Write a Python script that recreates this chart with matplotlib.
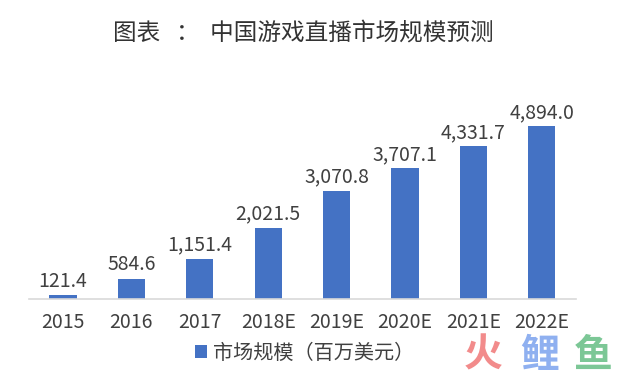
import matplotlib
matplotlib.use('Agg')
import matplotlib.pyplot as plt

plt.rcParams['font.family'] = ['Noto Sans CJK SC', 'DejaVu Sans']

years = ['2015', '2016', '2017', '2018E', '2019E', '2020E', '2021E', '2022E']
market = [121.4, 584.6, 1151.4, 2021.5, 3070.8, 3707.1, 4331.7, 4894.0]
series_name = '市场规模（百万美元）'
title = '图表   ：  中国游戏直播市场规模预测'

fig = plt.figure(figsize=(6.28, 3.74), dpi=100)
ax = fig.add_axes([0.046, 0.2, 0.871, 0.567])

x = range(len(years))
bars = ax.bar(x, market, width=0.4, color='#4472C4', label=series_name, zorder=2)
for xi, v in zip(x, market):
    ax.text(xi, v + 90, '{:,.1f}'.format(v), ha='center', va='bottom',
            fontsize=14, color='#404040')

ax.set_xlim(-0.5, len(years) - 0.5)
ax.set_ylim(0, 6000)
ax.set_xticks(list(x))
ax.set_xticklabels(years, fontsize=14, color='#404040')
ax.tick_params(axis='x', length=0, pad=9)
ax.set_yticks([])
for s in ['top', 'right', 'left']:
    ax.spines[s].set_visible(False)
ax.spines['bottom'].set_color('#d9d9d9')
ax.spines['bottom'].set_linewidth(1.2)

fig.text(0.483, 0.912, title, ha='center', va='center', fontsize=17, color='#333333')

leg = fig.legend(handles=[bars], labels=[series_name], loc='center',
                 bbox_to_anchor=(0.485, 0.055), frameon=False, fontsize=14.5,
                 handlelength=0.6, handleheight=0.6, handletextpad=0.3)
for t in leg.get_texts():
    t.set_color('#404040')

# watermark
fig.text(0.77, 0.05, '火', color='#f28b8b', fontsize=28, fontweight='bold', ha='center', va='center')
fig.text(0.86, 0.05, '鲤', color='#8fb0f0', fontsize=28, fontweight='bold', ha='center', va='center')
fig.text(0.945, 0.05, '鱼', color='#7cc796', fontsize=28, fontweight='bold', ha='center', va='center')

fig.savefig('out.png', dpi=100, facecolor='white')
